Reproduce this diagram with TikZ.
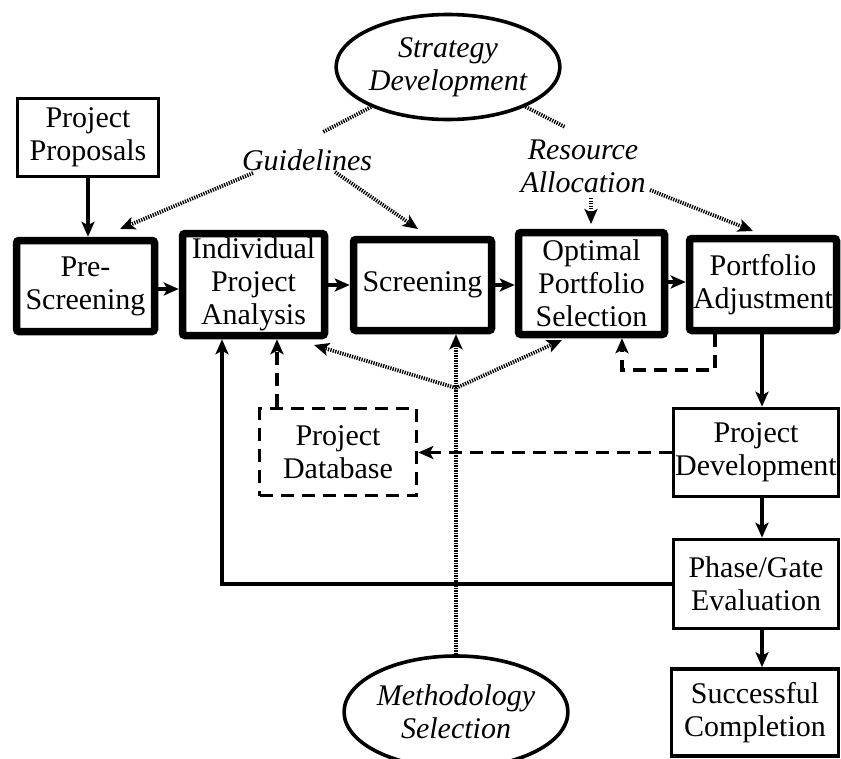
\documentclass[tikz,border=0pt]{standalone}
\usepackage{fontspec}
\setmainfont{Liberation Serif}
\usetikzlibrary{arrows.meta,shapes.geometric}
\begin{document}
\begin{tikzpicture}[x=1pt,y=-1pt,
  txt/.style={font=\fontsize{30}{33}\selectfont, align=center, inner sep=0pt},
  thickbox/.style={txt, draw, line width=7.5pt, rounded corners=2.5pt},
  thinbox/.style={txt, draw, line width=3.6pt},
  dashbox/.style={txt, draw, line width=3.6pt, dash pattern=on 13pt off 8pt},
  oval/.style={txt, draw, ellipse, line width=3.6pt, font=\fontsize{30}{33}\selectfont\itshape},
  lab/.style={txt, font=\fontsize{30}{33}\selectfont\itshape},
  tip/.style={-{Stealth[length=15pt,width=13pt,inset=3.5pt]}},
  arr/.style={line width=3.2pt, tip},
  dotln/.style={line width=3.8pt, dash pattern=on 1.3pt off 1.2pt},
  dotarr/.style={dotln, tip},
  dasharr/.style={line width=3.6pt, dash pattern=on 13pt off 8pt, tip}
]
\useasboundingbox[fill=white] (0,0) rectangle (841,758);

% boxes
\node[thinbox, minimum width=141pt, minimum height=78pt] (prop) at (88,137.5) {Project\\Proposals};
\node[thickbox, minimum width=138pt, minimum height=91pt] (pre) at (85.5,286) {Pre-\\Screening};
\node[thickbox, minimum width=142pt, minimum height=102pt] (ind) at (253.5,284.5) {Individual\\Project\\Analysis};
\node[thickbox, minimum width=138pt, minimum height=91pt] (scr) at (422.5,285) {Screening};
\node[thickbox, minimum width=146pt, minimum height=102pt] (opt) at (591.5,283.5) {Optimal\\Portfolio\\Selection};
\node[thickbox, minimum width=147pt, minimum height=92pt] (adj) at (763,284.5) {Portfolio\\Adjustment};
\node[thinbox, minimum width=165pt, minimum height=88pt] (dev) at (756,452.5) {Project\\Development};
\node[thinbox, minimum width=165pt, minimum height=89pt] (gate) at (756,584) {Phase/Gate\\Evaluation};
\node[thinbox, minimum width=167pt, minimum height=87pt] (succ) at (755,712.5) {Successful\\Completion};
\node[dashbox, minimum width=157pt, minimum height=87pt] (db) at (338,452) {Project\\Database};

% ellipses and labels
\node[oval, minimum width=181pt, minimum height=105pt] (strat) at (448,67) {Strategy\\Development};
\node[oval, minimum width=178pt, minimum height=112pt] (meth) at (456,712) {Methodology\\Selection};
\node[lab] (guide) at (307,160) {Guidelines};
\node[lab] (res) at (583,166) {Resource\\Allocation};

% free ends
\coordinate (g1) at (323,132);
\coordinate (g2) at (253,173);
\coordinate (g3) at (335,172);
\coordinate (gt1) at (120,229);
\coordinate (gt2) at (418,229);
\coordinate (r1) at (565,127);
\coordinate (r2) at (591,198);
\coordinate (rt2) at (591,224);
\coordinate (r3) at (650,190);
\coordinate (rt3) at (753,231);
\coordinate (J) at (456,388);
\coordinate (jt1) at (314,345);
\coordinate (jt2) at (562,340);
\coordinate (lp1) at (715,370);
\coordinate (lp2) at (622,370);
\coordinate (xdb) at (277,0);
\coordinate (xret) at (222,0);
\coordinate (xcol) at (762,0);

% main flow
\draw[arr] (prop.south) -- (prop.south |- pre.north);
\draw[arr] (pre.east |- 0,289) -- (ind.west |- 0,289);
\draw[arr] (ind.east |- 0,285) -- (scr.west |- 0,285);
\draw[arr] (scr.east |- 0,285) -- (opt.west |- 0,285);
\draw[arr] (opt.east |- 0,282) -- (adj.west |- 0,282);
\draw[arr] (adj.south -| xcol) -- (dev.north -| xcol);
\draw[arr] (dev.south -| xcol) -- (gate.north -| xcol);
\draw[arr] (gate.south -| xcol) -- (succ.north -| xcol);
\draw[arr] (gate.west) -- (gate.west -| xret) -- (ind.south -| xret);

% dashed
\draw[dasharr] (dev.west) -- (db.east |- dev.west);
\draw[dasharr] (db.north -| xdb) -- (ind.south -| xdb);
\draw[dasharr] (adj.south -| lp1) -- (lp1) -- (lp2) -- (opt.south -| lp2);

% dotted strategy links
\draw[dotln] (strat) -- (g1);
\draw[dotarr] (g2) -- (gt1);
\draw[dotarr] (g3) -- (gt2);
\draw[dotln] (strat) -- (r1);
\draw[dotarr] (r2) -- (rt2);
\draw[dotarr] (r3) -- (rt3);

% dotted methodology links
\draw[dotarr] (meth.north) -- (meth.north |- scr.south);
\draw[dotarr] (J) -- (jt1);
\draw[dotarr] (J) -- (jt2);
\end{tikzpicture}
\end{document}
